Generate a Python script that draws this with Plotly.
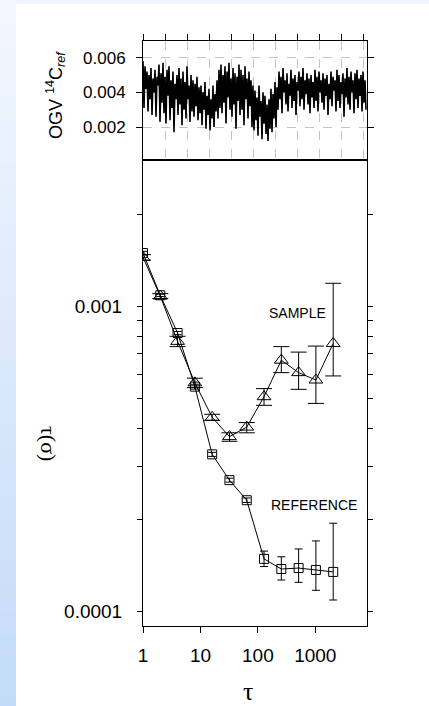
import plotly.graph_objects as go

# ---------------- data ----------------
# top panel: OGV 14C_ref time series (values in units of 1e-4)
ogv_1e4 = [
    58, 31, 55, 42, 52, 29, 50, 36, 54, 27, 48, 40, 53, 26, 49,
    44, 56, 23, 51, 34, 57, 28, 49, 22, 53, 38, 55, 24, 47, 31, 52, 17, 45, 36, 50,
    27, 54, 33, 48, 21, 52, 30, 46, 25, 55, 36, 44, 23, 50, 29, 47, 26, 45, 32, 49, 24, 43, 28,
    44, 21, 40, 30, 46, 19, 38, 27, 42, 18, 36, 25, 44, 20, 39, 29, 47,
    25, 53, 31, 56, 28, 50, 34, 55, 22, 52, 37, 57, 30, 48, 26, 54, 33, 51, 19, 49, 35, 56, 27,
    53, 30, 50, 21, 55, 36, 48, 25, 52, 32, 47, 20, 44,
    18, 41, 24, 37, 15, 44, 26, 35, 13, 40, 22, 38, 16, 33, 12, 36, 19, 42, 17, 39, 25, 46, 20, 43,
    30, 52, 36, 49, 28, 54, 40, 47, 33, 51, 29, 45, 38, 53, 31, 48, 35, 50, 27, 46, 41, 52, 32, 49,
    36, 54, 30, 47, 39, 51, 33, 48, 28, 50, 37, 46, 31, 53, 35, 49, 29, 52, 40, 47, 34, 51, 30, 48,
    38, 50, 27, 45, 36, 52, 32, 49, 41, 47, 29, 53, 35, 50, 31, 46, 39, 51, 26, 48, 37, 54, 33, 49,
    30, 52, 40, 47, 28, 51, 36, 53, 31, 48, 38, 50, 29, 52, 34, 47, 30,
]
ogv_values = [v * 1e-4 for v in ogv_1e4]
ogv_index = list(range(len(ogv_values)))
top_tickvals = [0, 22, 44, 66, 88, 110, 132, 154, 176, 198, 220]
top_ytickvals = [0.002, 0.004, 0.006]
top_yticktext = ["0.002", "0.004", "0.006"]

# bottom panel: sigma(tau)
tau = [1, 2, 4, 8, 16, 32, 64, 128, 256, 512, 1024, 2048]
ref_sigma = [0.00150, 0.00109, 0.00082, 0.000547, 0.000328, 0.000270, 0.000232,
             0.000149, 0.000138, 0.000139, 0.000137, 0.000135]
ref_err_plus = [0.00002, 0.00001, 0.00001, 0.00001, 0.000005, 0.000004, 0.000004,
                0.000009, 0.0000134, 0.0000216, 0.0000336, 0.00006]
ref_err_minus = [0.00002, 0.00001, 0.00001, 0.00001, 0.000005, 0.000004, 0.000004,
                 0.0000084, 0.000011, 0.0000142, 0.0000195, 0.0000258]
sam_sigma = [0.001452, 0.001084, 0.000770, 0.000563, 0.000434, 0.000375, 0.000403,
             0.000507, 0.000668, 0.000608, 0.000575, 0.000758]
sam_err_plus = [0.00003, 0.00002, 0.00003, 0.00002, 0.00001, 0.000011, 0.000014,
                0.000032, 0.000072, 0.000102, 0.000168, 0.000436]
sam_err_minus = [0.00003, 0.00002, 0.00003, 0.00002, 0.00001, 0.000013, 0.000017,
                 0.000032, 0.00006, 0.000072, 0.000093, 0.000165]
x_tickvals = [1, 10, 100, 1000]
x_ticktext = ["1", "10", "100", "1000"]
y_tickvals = [0.0001, 0.001]
y_ticktext = ["0.0001", "0.001"]
y_minor_tickvals = [0.0002, 0.0003, 0.0004, 0.0005, 0.0006, 0.0007, 0.0008, 0.0009, 0.002]

# ---------------- geometry ----------------
W_PX, H_PX = 429, 706
L, R, T, B = 143, 367, 41, 626
PW, PH = R - L, B - T


def px_x(px):
    return (px - L) / PW


def px_y(py):
    return (B - py) / PH


fig = go.Figure()

fig.add_trace(go.Scatter(
    x=ogv_index, y=ogv_values, mode="lines",
    line=dict(color="black", width=1.6),
    xaxis="x2", yaxis="y2", showlegend=False, hoverinfo="skip"))

fig.add_trace(go.Scatter(
    x=tau, y=ref_sigma, mode="lines+markers",
    line=dict(color="black", width=1),
    marker=dict(symbol="square-open", size=9, color="black", line=dict(width=1)),
    error_y=dict(type="data", array=ref_err_plus, arrayminus=ref_err_minus,
                 color="black", thickness=1, width=4),
    xaxis="x", yaxis="y", showlegend=False))

fig.add_trace(go.Scatter(
    x=tau, y=sam_sigma, mode="lines+markers",
    line=dict(color="black", width=1),
    marker=dict(symbol="triangle-up-open", size=12, color="black", line=dict(width=1)),
    error_y=dict(type="data", array=sam_err_plus, arrayminus=sam_err_minus,
                 color="black", thickness=1, width=8),
    xaxis="x", yaxis="y", showlegend=False))

axis_font = dict(family="Liberation Sans, Arial", size=19, color="black")

fig.update_layout(
    width=W_PX, height=H_PX,
    margin=dict(l=L, r=W_PX - R, t=T, b=H_PX - B, pad=0),
    paper_bgcolor="white", plot_bgcolor="white",
    xaxis=dict(type="log", range=[0, 3.9], anchor="y",
               tickvals=x_tickvals, ticktext=x_ticktext,
               ticks="outside", ticklen=6, tickcolor="black", tickwidth=1,
               showline=True, linecolor="black", linewidth=1, mirror=True,
               showgrid=False, zeroline=False, tickfont=axis_font,
               ticklabelstandoff=6),
    yaxis=dict(type="log", range=[-4.047, -2.522], domain=[0, px_y(161)], anchor="x",
               tickvals=y_tickvals, ticktext=y_ticktext,
               ticks="outside", ticklen=5, tickcolor="black", tickwidth=1,
               minor=dict(tickvals=y_minor_tickvals, ticks="outside", ticklen=5,
                          tickcolor="black", tickwidth=1, showgrid=False),
               showline=True, linecolor="black", linewidth=1, mirror="ticks",
               showgrid=False, zeroline=False, tickfont=axis_font,
               ticklabelstandoff=11),
    xaxis2=dict(range=[0, 224], anchor="y2", side="top",
                tickvals=top_tickvals, showticklabels=False,
                ticks="outside", ticklen=6, tickcolor="black", tickwidth=1,
                showline=True, linecolor="black", linewidth=1, mirror=True,
                showgrid=True, gridcolor="#c4c4c4", griddash="dash", gridwidth=1,
                zeroline=False),
    yaxis2=dict(range=[0.00016, 0.00696], domain=[px_y(159), 1], anchor="x2",
                tickvals=top_ytickvals, ticktext=top_yticktext,
                ticks="outside", ticklen=6, tickcolor="black", tickwidth=1,
                showline=True, linecolor="black", linewidth=1, mirror="ticks",
                showgrid=True, gridcolor="#c4c4c4", griddash="dash", gridwidth=1,
                zeroline=False,
                tickfont=dict(family="Liberation Sans, Arial", size=17, color="black"),
                ticklabelstandoff=7),
)

# background strips (light blue gradient on the left, light strip on top)
shapes = []
shapes.append(dict(type="rect", xref="paper", yref="paper", layer="below",
                   x0=px_x(0), x1=px_x(W_PX), y0=px_y(4), y1=px_y(0),
                   fillcolor="#f2f6fe", line=dict(width=0)))
n_bands = 60
c_top = (0xf3, 0xf7, 0xfe)
c_bot = (0xc3, 0xdb, 0xf8)
for i in range(n_bands):
    f = (i + 0.5) / n_bands
    col = tuple(round(c_top[k] + (c_bot[k] - c_top[k]) * f) for k in range(3))
    y0 = H_PX * i / n_bands
    y1 = H_PX * (i + 1) / n_bands
    shapes.append(dict(type="rect", xref="paper", yref="paper", layer="below",
                       x0=px_x(0), x1=px_x(16), y0=px_y(y1 + 0.5), y1=px_y(y0),
                       fillcolor="rgb(%d,%d,%d)" % col, line=dict(width=0)))
fig.update_layout(shapes=shapes)

annotations = [
    dict(text="OGV <sup>14</sup>C<sub><i>ref</i></sub>", textangle=-90,
         xref="paper", yref="paper", x=px_x(55), y=px_y(95),
         xanchor="center", yanchor="middle",
         showarrow=False, font=dict(family="Liberation Sans, Arial", size=18, color="black")),
    dict(text="τ(σ)", textangle=90,
         xref="paper", yref="paper", x=px_x(49), y=px_y(443),
         xanchor="center", yanchor="middle",
         showarrow=False, font=dict(family="Liberation Serif, Times New Roman", size=22, color="black")),
    dict(text="τ", xref="paper", yref="paper", x=px_x(248), y=px_y(691),
         xanchor="center", yanchor="middle",
         showarrow=False, font=dict(family="Liberation Serif, Times New Roman", size=26, color="black")),
    dict(text="SAMPLE", xref="paper", yref="paper", x=px_x(297), y=px_y(313),
         xanchor="center", yanchor="middle",
         showarrow=False, font=dict(family="Liberation Sans, Arial", size=14, color="black")),
    dict(text="REFERENCE", xref="paper", yref="paper", x=px_x(314), y=px_y(505),
         xanchor="center", yanchor="middle",
         showarrow=False, font=dict(family="Liberation Sans, Arial", size=14, color="black")),
]
fig.update_layout(annotations=annotations)

fig.write_html("out.html",
               config={"displayModeBar": False},
               post_script="document.body.style.margin='0';document.body.style.padding='0';")
